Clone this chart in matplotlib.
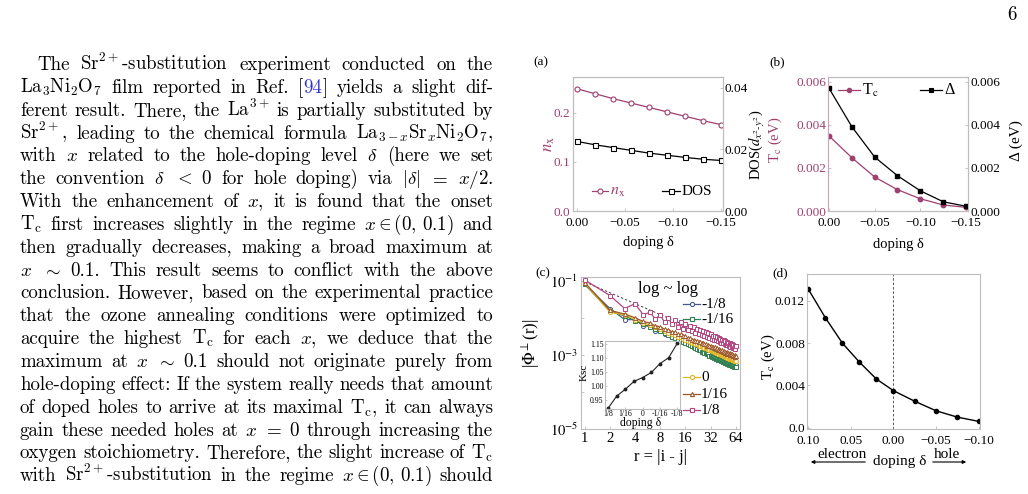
import matplotlib
matplotlib.use("Agg")
import matplotlib.pyplot as plt
import numpy as np
from matplotlib.lines import Line2D
from matplotlib.patches import FancyArrowPatch

W, H = 1028, 494
plt.rcParams['font.family'] = ['Liberation Serif', 'DejaVu Serif']
plt.rcParams['mathtext.fontset'] = 'stix'

# ---------------- data ----------------
delta_a = [0.0, -0.01875, -0.0375, -0.05625, -0.075, -0.09375, -0.1125, -0.13125, -0.15]
nx_a = [0.249, 0.239, 0.229, 0.220, 0.211, 0.202, 0.193, 0.184, 0.176]
dos_a = [0.0226, 0.0215, 0.0206, 0.0197, 0.0188, 0.0181, 0.0174, 0.0168, 0.0164]

delta_b = [0.0, -0.025, -0.05, -0.075, -0.10, -0.125, -0.15]
tc_b = [0.00349, 0.00248, 0.00158, 0.00099, 0.00057, 0.00028, 0.00017]
gap_b = [0.00571, 0.00392, 0.00251, 0.00164, 0.00094, 0.00043, 0.00022]

r_c = list(range(1, 65))
phi_m18_log = [
    -1.10, -1.75, -2.05, -2.05, -2.22, -2.22, -2.35, -2.34,
    -2.45, -2.44, -2.53, -2.51, -2.60, -2.58, -2.66, -2.64,
    -2.71, -2.69, -2.76, -2.74, -2.80, -2.78, -2.84, -2.82,
    -2.88, -2.85, -2.91, -2.88, -2.94, -2.91, -2.97, -2.94,
    -3.00, -2.97, -3.02, -2.99, -3.05, -3.02, -3.07, -3.04,
    -3.09, -3.06, -3.11, -3.08, -3.13, -3.10, -3.15, -3.12,
    -3.17, -3.14, -3.19, -3.16, -3.21, -3.18, -3.23, -3.20,
    -3.25, -3.22, -3.27, -3.24, -3.29, -3.26, -3.31, -3.28]
phi_m116_log = [
    -1.10, -1.82, -1.95, -2.08, -2.17, -2.24, -2.31, -2.36,
    -2.42, -2.46, -2.51, -2.54, -2.59, -2.61, -2.66, -2.68,
    -2.72, -2.74, -2.77, -2.79, -2.82, -2.84, -2.87, -2.88,
    -2.91, -2.92, -2.95, -2.96, -2.98, -2.99, -3.02, -3.02,
    -3.05, -3.05, -3.08, -3.08, -3.10, -3.10, -3.13, -3.13,
    -3.15, -3.15, -3.17, -3.17, -3.19, -3.19, -3.21, -3.21,
    -3.23, -3.23, -3.25, -3.24, -3.27, -3.26, -3.28, -3.28,
    -3.30, -3.29, -3.31, -3.31, -3.33, -3.32, -3.34, -3.33]
phi_0_log = [
    -1.07, -1.85, -1.92, -2.05, -2.13, -2.20, -2.26, -2.31,
    -2.36, -2.40, -2.44, -2.47, -2.51, -2.53, -2.57, -2.59,
    -2.62, -2.64, -2.67, -2.68, -2.71, -2.72, -2.75, -2.76,
    -2.78, -2.79, -2.82, -2.82, -2.85, -2.85, -2.88, -2.88,
    -2.90, -2.90, -2.93, -2.92, -2.95, -2.94, -2.97, -2.96,
    -2.99, -2.98, -3.01, -3.00, -3.03, -3.02, -3.05, -3.04,
    -3.06, -3.05, -3.08, -3.07, -3.10, -3.08, -3.11, -3.10,
    -3.13, -3.11, -3.14, -3.13, -3.16, -3.14, -3.17, -3.16]
phi_p116_log = [
    -1.05, -1.80, -1.90, -2.00, -2.10, -2.14, -2.22, -2.24,
    -2.31, -2.32, -2.38, -2.39, -2.45, -2.45, -2.50, -2.50,
    -2.55, -2.55, -2.59, -2.59, -2.63, -2.62, -2.66, -2.65,
    -2.69, -2.68, -2.72, -2.71, -2.75, -2.73, -2.77, -2.76,
    -2.80, -2.78, -2.82, -2.80, -2.84, -2.82, -2.86, -2.84,
    -2.88, -2.86, -2.90, -2.88, -2.92, -2.90, -2.94, -2.91,
    -2.95, -2.93, -2.97, -2.94, -2.98, -2.96, -3.00, -2.97,
    -3.01, -2.99, -3.03, -3.00, -3.04, -3.01, -3.05, -3.03]
phi_p18_log = [
    -0.98, -1.40, -1.75, -1.62, -1.92, -1.85, -2.03, -1.93,
    -2.12, -2.00, -2.18, -2.06, -2.24, -2.11, -2.29, -2.16,
    -2.33, -2.21, -2.37, -2.25, -2.40, -2.29, -2.43, -2.33,
    -2.46, -2.36, -2.49, -2.39, -2.52, -2.42, -2.54, -2.45,
    -2.57, -2.48, -2.59, -2.50, -2.61, -2.53, -2.63, -2.55,
    -2.65, -2.57, -2.67, -2.59, -2.69, -2.61, -2.71, -2.63,
    -2.73, -2.65, -2.74, -2.67, -2.76, -2.69, -2.78, -2.70,
    -2.79, -2.72, -2.81, -2.74, -2.82, -2.75, -2.84, -2.77]
series_c_labels = ['-1/8', '-1/16', '0', '1/16', '1/8']
guide_r = [1, 64]
guide_phi = [0.093, 0.0016]

delta_in = [1/8, 3/32, 1/16, 1/32, 0.0, -1/32, -1/16, -3/32, -1/8]
ksc_in = [0.920, 0.964, 0.989, 1.017, 1.031, 1.049, 1.081, 1.102, 1.154]
in_xticks = [1/8, 1/16, 0.0, -1/16, -1/8]
in_xlabels = ['1/8', '1/16', '0', '-1/16', '-1/8']
in_yticks = [0.95, 1.00, 1.05, 1.10, 1.15]
in_ylabels = ['0.95', '1.00', '1.05', '1.10', '1.15']

delta_d = [0.10, 0.08, 0.06, 0.04, 0.02, 0.0, -0.025, -0.05, -0.075, -0.10]
tc_d = [0.0131, 0.0104, 0.0080, 0.0062, 0.0046, 0.0035, 0.0025, 0.0016, 0.0010, 0.0006]

body_lines = [
    r"The Sr$^{2+}$-substitution experiment conducted on the",
    r"La$_3$Ni$_2$O$_7$ film reported in Ref. [94] yields a slight dif-",
    r"ferent result. There, the La$^{3+}$ is partially substituted by",
    r"Sr$^{2+}$, leading to the chemical formula La$_{3-x}$Sr$_x$Ni$_2$O$_7$,",
    r"with $x$ related to the hole-doping level $\delta$ (here we set",
    r"the convention $\delta$ $<$ $0$ for hole doping) via $|\delta|$ $=$ $x/2$.",
    r"With the enhancement of $x$, it is found that the onset",
    r"T$_\mathrm{c}$ first increases slightly in the regime $x\in(0,\,0.1)$ and",
    r"then gradually decreases, making a broad maximum at",
    r"$x$ $\sim$ 0.1. This result seems to conflict with the above",
    r"conclusion. However, based on the experimental practice",
    r"that the ozone annealing conditions were optimized to",
    r"acquire the highest T$_\mathrm{c}$ for each $x$, we deduce that the",
    r"maximum at $x$ $\sim$ 0.1 should not originate purely from",
    r"hole-doping effect: If the system really needs that amount",
    r"of doped holes to arrive at its maximal T$_\mathrm{c}$, it can always",
    r"gain these needed holes at $x$ $=$ $0$ through increasing the",
    r"oxygen stoichiometry. Therefore, the slight increase of T$_\mathrm{c}$",
    r"with Sr$^{2+}$-substitution in the regime $x\in(0,\,0.1)$ should",
]

# ---------------- style ----------------
MAROON = '#9e4070'
FRAME = '#bdbdbd'
LINK = '#3030d0'
C_COLORS = ['#47598a', '#2f8050', '#e3b51e', '#9b5728', '#b34483']
C_MARKERS = ['o', 's', 'o', '^', 's']

fig = plt.figure(figsize=(W / 100, H / 100), dpi=100)


def px_axes(l, t, r, b, **kw):
    return fig.add_axes([l / W, 1 - b / H, (r - l) / W, (b - t) / H], **kw)


def ftext(x, y, s, **kw):
    return fig.text(x / W, 1 - y / H, s, **kw)


def style(ax, fs):
    for s in ax.spines.values():
        s.set_color(FRAME)
        s.set_linewidth(0.8)
    ax.tick_params(which='both', direction='in', length=2.5, width=0.6,
                   color=FRAME, labelsize=fs, pad=2)


def swatch(x0, x1, y, color, marker, mfc, ms, lw=0.9):
    fig.add_artist(Line2D([x0 / W, x1 / W], [1 - y / H] * 2, color=color, lw=lw))
    fig.add_artist(Line2D([(x0 + x1) / 2 / W], [1 - y / H], color=color, marker=marker,
                          mfc=mfc, ms=ms, lw=0, mew=0.8))


# ---------------- body text ----------------
renderer = fig.canvas.get_renderer()
BODY_FS = 13.6
LEFT, RIGHT = 20, 493
for i, line in enumerate(body_lines):
    y = 70 + i * 22.85
    items = []
    for tok in line.split(' '):
        segs = [("[", 'black'), ("94", LINK), ("]", 'black')] if tok == "[94]" else [(tok, 'black')]
        ts = [ftext(0, y, s, fontsize=BODY_FS, family='cmr10', math_fontfamily='cm',
                    color=c, va='baseline', ha='left') for s, c in segs]
        items.append(ts)
    widths = [[t.get_window_extent(renderer).width for t in ts] for ts in items]
    total = sum(sum(w) for w in widths)
    left = LEFT + (17 if i == 0 else 0)
    gap = (RIGHT - left - total) / (len(items) - 1)
    x = left
    for ts, ws in zip(items, widths):
        for t, w in zip(ts, ws):
            t.set_x(x / W)
            x += w
        x += gap

ftext(1012, 15, "6", fontsize=BODY_FS, family='cmr10', ha='center', va='center')

# ---------------- panel (a) ----------------
ax_a = px_axes(573, 77, 723, 211)
ax_a.plot(delta_a, nx_a, color=MAROON, marker='o', mfc='white', ms=3.6, lw=0.9, mew=0.8)
ax_a.set_xlim(0.004, -0.152)
ax_a.set_ylim(0, 0.273)
ax_a.set_xticks([0, -0.05, -0.10, -0.15])
ax_a.set_xticklabels(['0.00', '\u22120.05', '\u22120.10', '\u22120.15'])
ax_a.set_yticks([0, 0.1, 0.2])
ax_a.set_yticklabels(['0.0', '0.1', '0.2'], color=MAROON)
style(ax_a, 9.5)
ax_a.tick_params(axis='x', pad=4)
ax_a2 = ax_a.twinx()
ax_a2.plot(delta_a, dos_a, color='black', marker='s', mfc='white', ms=3.6, lw=0.9, mew=0.8)
ax_a2.set_ylim(0, 0.0435)
ax_a2.set_yticks([0, 0.02, 0.04])
ax_a2.set_yticklabels(['0.00', '0.02', '0.04'])
style(ax_a2, 9.5)
ax_a2.tick_params(axis='y', pad=1)
ftext(541, 62, "(a)", fontsize=9.5, ha='center', va='center')
ftext(549, 144, r"$n_{\mathrm{x}}$", fontsize=12, color=MAROON, rotation=90, ha='center', va='center')
ftext(757, 145, r"DOS($d_{x^2\text{-}y^2}$)", fontsize=10.5, rotation=90, ha='center', va='center')
ftext(648, 242, "doping δ", fontsize=10.5, ha='center', va='center')
swatch(592, 608, 191, MAROON, 'o', 'white', 3.6)
ftext(610, 191, r"$n_{\mathrm{x}}$", fontsize=11.5, color=MAROON, ha='left', va='center')
swatch(662, 680, 191, 'black', 's', 'white', 3.6)
ftext(682, 191, "DOS", fontsize=11, ha='left', va='center')

# ---------------- panel (b) ----------------
ax_b = px_axes(828, 77, 968, 211)
ax_b.plot(delta_b, tc_b, color=MAROON, marker='o', ms=3.2, lw=0.9)
ax_b.set_xlim(0.0011, -0.1522)
ax_b.set_ylim(0, 0.00623)
ax_b.set_xticks([0, -0.05, -0.10, -0.15])
ax_b.set_xticklabels(['0.00', '\u22120.05', '\u22120.10', '\u22120.15'])
ax_b.set_yticks([0, 0.002, 0.004, 0.006])
ax_b.set_yticklabels(['0.000', '0.002', '0.004', '0.006'], color=MAROON)
style(ax_b, 9.5)
ax_b.tick_params(axis='y', pad=1.5)
ax_b.tick_params(axis='x', pad=4)
ax_b2 = ax_b.twinx()
ax_b2.plot(delta_b, gap_b, color='black', marker='s', ms=3.4, lw=0.9)
ax_b2.set_ylim(0, 0.00623)
ax_b2.set_yticks([0, 0.002, 0.004, 0.006])
ax_b2.set_yticklabels(['0.000', '0.002', '0.004', '0.006'])
style(ax_b2, 9.5)
ax_b2.tick_params(axis='y', pad=1.5)
ax_b2.spines['left'].set_color('#cfa3b9')
ftext(777, 62, "(b)", fontsize=9.5, ha='center', va='center')
ftext(775, 140, r"T$_{\mathrm{c}}$ (eV)", fontsize=10.5, color=MAROON, rotation=90, ha='center', va='center')
ftext(1016, 141, "Δ (eV)", fontsize=11, rotation=90, ha='center', va='center')
ftext(898, 244, "doping δ", fontsize=10.5, ha='center', va='center')
swatch(838, 860, 90, MAROON, 'o', MAROON, 3.2)
ftext(862, 90, r"T$_{\mathrm{c}}$", fontsize=11.5, ha='left', va='center')
swatch(920, 942, 90, 'black', 's', 'black', 3.4)
ftext(944, 90, "Δ", fontsize=11.5, ha='left', va='center')

# ---------------- panel (c) ----------------
ax_c = px_axes(581, 277, 740, 429)
ax_c.set_xscale('log', base=2)
ax_c.set_yscale('log')
ax_c.plot(guide_r, guide_phi, color='#444444', ls=(0, (2.5, 2)), lw=0.7, zorder=1)
all_c = [phi_m18_log, phi_m116_log, phi_0_log, phi_p116_log, phi_p18_log]
for vals, col, mk in zip(all_c, C_COLORS, C_MARKERS):
    ax_c.plot(r_c, np.power(10.0, vals), color=col, marker=mk, mfc='white', ms=3.0,
              lw=0.9, mew=0.7, zorder=2)
ax_c.set_xlim(0.9, 72)
ax_c.set_ylim(1e-5, 10 ** -0.9)
ax_c.set_xticks([1, 2, 4, 8, 16, 32, 64])
ax_c.set_xticklabels(['1', '2', '4', '8', '16', '32', '64'])
ax_c.xaxis.set_minor_locator(matplotlib.ticker.NullLocator())
ax_c.set_yticks([1e-1, 1e-3, 1e-5])
ax_c.set_yticklabels([r'$10^{-1}$', r'$10^{-3}$', r'$10^{-5}$'])
ax_c.set_yticks([1e-2, 1e-4], minor=True)
ax_c.yaxis.set_minor_formatter(matplotlib.ticker.NullFormatter())
style(ax_c, 10.5)
ftext(543, 273, "(c)", fontsize=9.5, ha='center', va='center')
ftext(531, 343, r"|$\Phi^{\perp}$(r)|", fontsize=12, rotation=90, ha='center', va='center')
ftext(660, 457, "r = |i - j|", fontsize=12, ha='center', va='center')
ftext(668, 289, "log ~ log", fontsize=12, ha='center', va='center')
leg_y = [304, 319, 377, 394, 410]
for yy, col, mk, lab in zip(leg_y, C_COLORS, C_MARKERS, series_c_labels):
    swatch(683, 700, yy, col, mk, 'white', 3.0)
    ftext(701, yy, lab, fontsize=11, ha='left', va='center')

# inset
ax_in = px_axes(605, 341, 680, 409)
ax_in.plot(delta_in, ksc_in, color='#222222', marker='o', ms=1.8, lw=0.8)
ax_in.set_xlim(0.1357, -0.1346)
ax_in.set_ylim(0.918, 1.162)
ax_in.set_xticks(in_xticks)
ax_in.set_xticklabels(in_xlabels)
ax_in.set_yticks(in_yticks)
ax_in.set_yticklabels(in_ylabels)
style(ax_in, 5.6)
ax_in.tick_params(pad=1, length=1.5)
ftext(584, 372, "Ksc", fontsize=8, rotation=90, ha='center', va='center')
ftext(641, 423, "doping δ", fontsize=8.5, ha='center', va='center')

# ---------------- panel (d) ----------------
ax_d = px_axes(807, 274, 980, 429)
ax_d.axvline(0, color='#555555', ls=(0, (2.5, 2)), lw=0.7)
ax_d.plot(delta_d, tc_d, color='black', marker='o', ms=3.0, lw=1.0)
ax_d.set_xlim(0.1015, -0.1015)
ax_d.set_ylim(-0.00012, 0.01453)
ax_d.set_xticks([0.10, 0.05, 0.0, -0.05, -0.10])
ax_d.set_xticklabels(['0.10', '0.05', '0.00', '\u22120.05', '\u22120.10'])
ax_d.set_yticks([0, 0.004, 0.008, 0.012])
ax_d.set_yticklabels(['0.0', '0.004', '0.008', '0.012'])
style(ax_d, 9.5)
ax_d.tick_params(axis='y', pad=1.5)
ax_d.tick_params(axis='x', pad=4)
ftext(780, 273, "(d)", fontsize=9.5, ha='center', va='center')
ftext(768, 357, r"T$_{\mathrm{c}}$ (eV)", fontsize=10.5, rotation=90, ha='center', va='center')
ftext(900, 461, "doping δ", fontsize=11, ha='center', va='center')
ftext(842, 454, "electron", fontsize=11, ha='center', va='center')
ftext(947, 454, "hole", fontsize=11, ha='center', va='center')
for x0, x1 in [(868, 808), (930, 969)]:
    fig.add_artist(FancyArrowPatch((x0 / W, 1 - 462 / H), (x1 / W, 1 - 462 / H),
                                   transform=fig.transFigure, arrowstyle='-|>',
                                   mutation_scale=5, lw=0.8, color='black'))

fig.savefig("out.png", dpi=100)
